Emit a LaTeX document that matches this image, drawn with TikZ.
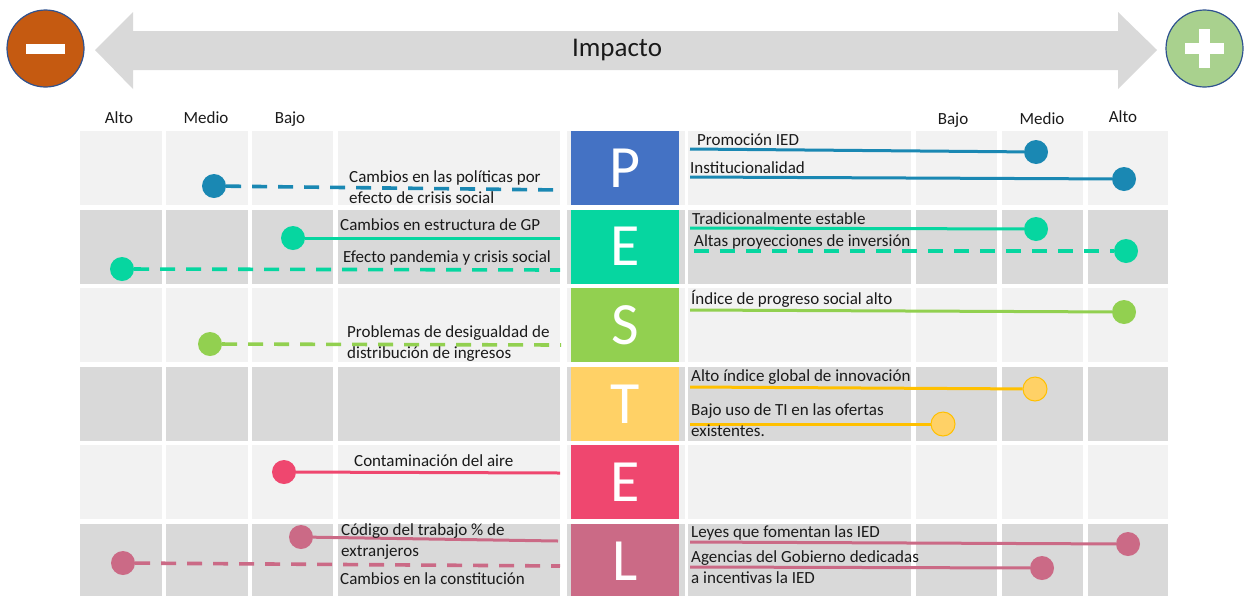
\documentclass[tikz,border=0pt]{standalone}
\usepackage{fontspec}
\setmainfont{Carlito}
\usetikzlibrary{positioning}

% PESTEL palette
\definecolor{pestP}{HTML}{4472C4}
\definecolor{pestE}{HTML}{06D6A0}
\definecolor{pestS}{HTML}{92D050}
\definecolor{pestT}{HTML}{FFD166}
\definecolor{pestEn}{HTML}{EF476F}
\definecolor{pestL}{HTML}{CB6A86}
\definecolor{dotP}{HTML}{1A88B3}
\definecolor{lineT}{HTML}{FFC000}
\definecolor{cellLight}{HTML}{F2F2F2}
\definecolor{cellDark}{HTML}{D9D9D9}
\definecolor{minusFill}{HTML}{C55A11}
\definecolor{plusFill}{HTML}{A9D18E}
\definecolor{signRim}{HTML}{2F528F}
\definecolor{txt}{HTML}{1A1A1A}

\begin{document}
\begin{tikzpicture}[
  x=1pt, y=-1pt,
  every node/.style={font=\fontsize{17}{20.5}\selectfont},
  letterbox/.style={rectangle, fill=#1, text=white, inner sep=0pt,
             minimum width=108pt, minimum height=74pt,
             font=\fontsize{60}{60}\selectfont},
  pdot/.style={circle, fill=#1, minimum size=24pt, inner sep=0pt},
  lbl/.style={anchor=base west, inner sep=0pt, align=left, text=txt},
  hdr/.style={anchor=base, inner sep=0pt, text=txt},
  solidline/.style={draw=#1, line width=3pt},
  dashline/.style={draw=#1, line width=3.6pt, dash pattern=on 15pt off 11pt},
  sign/.style={circle, minimum size=77pt, draw=signRim, line width=1.2pt, inner sep=0pt},
  bar/.style={fill=white, inner sep=0pt}
]
\useasboundingbox (0,0) rectangle (1244,595);

% Impact axis
\fill[cellDark] (95,50) -- (133,12) -- (133,31) -- (1118,31) -- (1118,12)
  -- (1157,50) -- (1118,89) -- (1118,70) -- (133,70) -- (133,89) -- cycle;
\node[font=\fontsize{27}{27}\selectfont, text=txt] (impacto) at (617,50) {Impacto};

\node[sign, fill=minusFill] (minus) at (45.5,48.5) {};
\node[bar, minimum width=39pt, minimum height=10pt] (minusbar) at (minus) {};
\node[sign, fill=plusFill] (plus) at (1204.5,48.5) {};
\node[bar, minimum width=39pt, minimum height=11pt] (plush) at (plus) {};
\node[bar, minimum width=11pt, minimum height=39pt] (plusv) at (plus) {};

% Level headers
\node[hdr] (altoL)  at (119,123) {Alto};
\node[hdr] (medioL) at (206,123) {Medio};
\node[hdr] (bajoL)  at (290,123) {Bajo};
\node[hdr] (bajoR)  at (953,124) {Bajo};
\node[hdr] (medioR) at (1042,124) {Medio};
\node[hdr] (altoR)  at (1123,122) {Alto};

% Grid
\foreach \r/\c in {0/cellLight,1/cellDark,2/cellLight,3/cellDark,4/cellLight,5/cellDark}
  \foreach \xa/\xb in {80/162,166/248,252/333,338/560,567/685,688/911,916/997,1002/1083,1088/1168}
    \fill[\c] (\xa,131+78.6*\r) rectangle (\xb,205+78.6*\r);

% Letters
\node[letterbox=pestP]  (P)  at (625,168.0) {P};
\node[letterbox=pestE]  (E)  at (625,246.6) {E};
\node[letterbox=pestS]  (S)  at (625,325.2) {S};
\node[letterbox=pestT]  (T)  at (625,403.8) {T};
\node[letterbox=pestEn] (En) at (625,482.4) {E};
\node[letterbox=pestL]  (L)  at (625,561.0) {L};

% Politico
\node[pdot=dotP] (pl)  at (214,186) {};
\node[pdot=dotP] (pr1) at (1036,152) {};
\node[pdot=dotP] (pr2) at (1124,179) {};
\coordinate (ple)  at (560,190);
\coordinate (pr1s) at (690,149);
\coordinate (pr2s) at (690,177);
\draw[dashline=dotP] (pl) -- (ple);
\draw[solidline=dotP] (pr1s) -- (pr1);
\draw[solidline=dotP] (pr2s) -- (pr2);
% (multi-line labels sit on their last baseline)
\node[lbl] (plt)  at (349,203) {Cambios en las políticas por\\efecto de crisis social};
\node[lbl] (pr1t) at (697,145) {Promoción IED};
\node[lbl] (pr2t) at (690,173) {Institucionalidad};

% Economico
\node[pdot=pestE] (el1) at (293,238) {};
\node[pdot=pestE] (el2) at (122,269) {};
\node[pdot=pestE] (er1) at (1036,229) {};
\node[pdot=pestE] (er2) at (1126,251) {};
\coordinate (el1e) at (560,238);
\coordinate (el2e) at (560,270);
\coordinate (er1s) at (690,228);
\coordinate (er2s) at (694,251);
\draw[solidline=pestE] (el1) -- (el1e);
\draw[dashline=pestE] (el2) -- (el2e);
\draw[solidline=pestE] (er1s) -- (er1);
\draw[dashline=pestE] (er2s) -- (er2);
\node[lbl] (el1t) at (340,230) {Cambios en estructura de GP};
\node[lbl] (el2t) at (343,262) {Efecto pandemia y crisis social};
\node[lbl] (er1t) at (692,224) {Tradicionalmente estable};
\node[lbl] (er2t) at (694,246) {Altas proyecciones de inversión};

% Social
\node[pdot=pestS] (sl) at (210,344) {};
\node[pdot=pestS] (sr) at (1124,312) {};
\coordinate (sle) at (561,345);
\coordinate (srs) at (690,310);
\draw[dashline=pestS] (sl) -- (sle);
\draw[solidline=pestS] (srs) -- (sr);
\node[lbl] (slt) at (347,358) {Problemas de desigualdad de\\distribución de ingresos};
\node[lbl] (srt) at (691,304) {Índice de progreso social alto};

% Tecnologico
\node[pdot=pestT, draw=lineT, line width=1pt] (tr1) at (1035,389) {};
\node[pdot=pestT, draw=lineT, line width=1pt] (tr2) at (943,424) {};
\coordinate (tr1s) at (690,387);
\coordinate (tr2s) at (690,424);
\draw[solidline=lineT] (tr1s) -- (tr1);
\draw[solidline=lineT] (tr2s) -- (tr2);
\node[lbl] (tr1t) at (691,381) {Alto índice global de innovación};
\node[lbl] (tr2t) at (691,436) {Bajo uso de TI en las ofertas\\existentes.};

% Ecologico
\node[pdot=pestEn] (enl) at (284,472) {};
\coordinate (enle) at (560,473);
\draw[solidline=pestEn] (enl) -- (enle);
\node[lbl] (enlt) at (354,466) {Contaminación del aire};

% Legal
\node[pdot=pestL] (ll1) at (301,537) {};
\node[pdot=pestL] (ll2) at (123,563) {};
\node[pdot=pestL] (lr1) at (1128,544) {};
\node[pdot=pestL] (lr2) at (1042,568) {};
\coordinate (ll1e) at (558,541);
\coordinate (ll2e) at (560,566);
\coordinate (lr1s) at (690,542);
\coordinate (lr2s) at (690,567);
\draw[solidline=pestL] (ll1) -- (ll1e);
\draw[dashline=pestL] (ll2) -- (ll2e);
\draw[solidline=pestL] (lr1s) -- (lr1);
\draw[solidline=pestL] (lr2s) -- (lr2);
\node[lbl] (ll1t) at (341,556) {Código del trabajo \% de\\extranjeros};
\node[lbl] (ll2t) at (340,584) {Cambios en la constitución};
\node[lbl] (lr1t) at (691,537) {Leyes que fomentan las IED};
\node[lbl] (lr2t) at (691,583) {Agencias del Gobierno dedicadas\\a incentivas la IED};

\end{tikzpicture}
\end{document}
